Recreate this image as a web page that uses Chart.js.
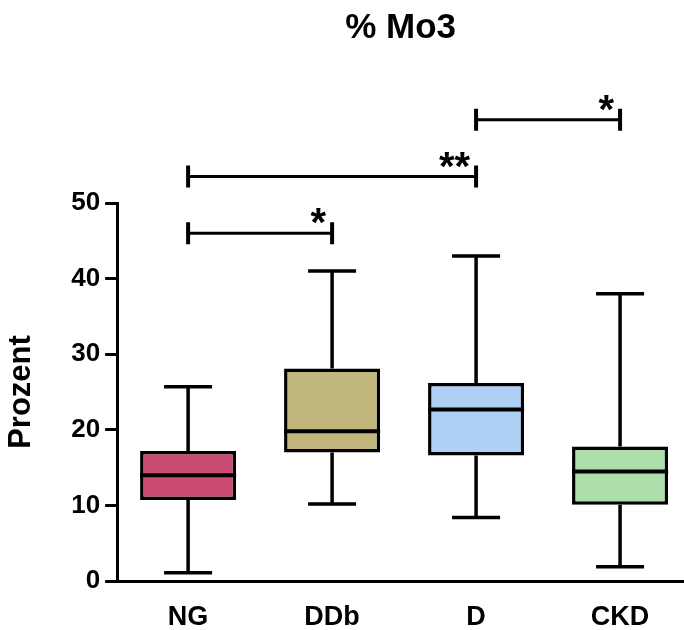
<!DOCTYPE html>
<html lang="de">
<head>
<meta charset="UTF-8">
<title>% Mo3</title>
<script src="https://cdn.jsdelivr.net/npm/chart.js"></script>
<style>
  body { margin: 0; background: #fff; }
  #wrap { width: 684px; height: 630px; }
</style>
</head>
<body>
<div id="wrap"><canvas id="boxChart" width="684" height="630"></canvas></div>
<script>
// data
const categories = ['NG', 'DDb', 'D', 'CKD'];
const whiskerLow = [1.1, 10.2, 8.4, 1.9];
const q1 = [10.7, 17.0, 16.6, 10.1];
const median = [14.0, 19.8, 22.7, 14.5];
const q3 = [17.2, 28.1, 26.2, 17.8];
const whiskerHigh = [25.7, 41.0, 43.0, 38.0];
const boxColors = ['#cc4b73', '#c1b67c', '#afd1f5', '#acdfac'];
const yTicks = [0, 10, 20, 30, 40, 50];

// significance brackets (group index from / to, height in %, label)
const bracketFrom = [0, 0, 2];
const bracketTo = [1, 2, 3];
const bracketLevel = [46, 53.5, 61];
const bracketLabel = ['*', '**', '*'];

const FONT = 'Arial, "Liberation Sans", Helvetica, sans-serif';

const boxWhiskers = {
  id: 'boxWhiskers',
  afterDatasetsDraw(chart) {
    const ctx = chart.ctx;
    const y = chart.scales.y;
    const meta = chart.getDatasetMeta(0);
    ctx.save();
    ctx.strokeStyle = '#000';
    ctx.lineCap = 'butt';
    meta.data.forEach((bar, i) => {
      const cx = bar.x;
      const half = bar.width / 2;
      const capHalf = bar.width / 4;
      // median
      ctx.lineWidth = 4;
      ctx.beginPath();
      ctx.moveTo(cx - half, y.getPixelForValue(median[i]));
      ctx.lineTo(cx + half, y.getPixelForValue(median[i]));
      ctx.stroke();
      // whiskers
      ctx.lineWidth = 3.5;
      ctx.beginPath();
      ctx.moveTo(cx, y.getPixelForValue(q3[i]));
      ctx.lineTo(cx, y.getPixelForValue(whiskerHigh[i]));
      ctx.moveTo(cx, y.getPixelForValue(q1[i]));
      ctx.lineTo(cx, y.getPixelForValue(whiskerLow[i]));
      ctx.moveTo(cx - capHalf, y.getPixelForValue(whiskerHigh[i]));
      ctx.lineTo(cx + capHalf, y.getPixelForValue(whiskerHigh[i]));
      ctx.moveTo(cx - capHalf, y.getPixelForValue(whiskerLow[i]));
      ctx.lineTo(cx + capHalf, y.getPixelForValue(whiskerLow[i]));
      ctx.stroke();
    });
    ctx.restore();
  }
};

const sigBrackets = {
  id: 'sigBrackets',
  afterDraw(chart) {
    const ctx = chart.ctx;
    const x = chart.scales.x;
    const y = chart.scales.y;
    ctx.save();
    ctx.strokeStyle = '#000';
    ctx.fillStyle = '#000';
    ctx.font = 'bold 40px ' + FONT;
    ctx.textAlign = 'right';
    ctx.textBaseline = 'alphabetic';
    bracketLevel.forEach((lvl, i) => {
      const x1 = x.getPixelForValue(bracketFrom[i]);
      const x2 = x.getPixelForValue(bracketTo[i]);
      const py = y.getPixelForValue(lvl);
      ctx.lineWidth = 3;
      ctx.beginPath();
      ctx.moveTo(x1, py);
      ctx.lineTo(x2, py);
      ctx.stroke();
      ctx.lineWidth = 4;
      ctx.beginPath();
      ctx.moveTo(x1, py - 11);
      ctx.lineTo(x1, py + 11);
      ctx.moveTo(x2, py - 11);
      ctx.lineTo(x2, py + 11);
      ctx.stroke();
      ctx.fillText(bracketLabel[i], x2 - 6, py + 3);
    });
    ctx.restore();
  }
};

new Chart(document.getElementById('boxChart'), {
  type: 'bar',
  data: {
    datasets: [{
      data: categories.map((c, i) => ({ x: i, y: [q1[i], q3[i]] })),
      backgroundColor: boxColors,
      borderColor: '#000',
      borderWidth: 3.5,
      borderSkipped: false,
      categoryPercentage: 1,
      barPercentage: 0.667
    }]
  },
  options: {
    responsive: false,
    animation: false,
    layout: { padding: { top: 0, left: 0, right: 0, bottom: -16 } },
    plugins: {
      legend: { display: false },
      tooltip: { enabled: false },
      title: {
        display: true,
        fullSize: false,
        text: '% Mo3',
        color: '#000',
        font: { family: FONT, size: 35, weight: 'bold', lineHeight: 1.2 },
        padding: { top: 7, bottom: 154 }
      }
    },
    scales: {
      x: {
        type: 'linear',
        offset: false,
        min: -0.493,
        max: 3.444,
        afterBuildTicks: (axis) => { axis.ticks = categories.map((c, i) => ({ value: i })); },
        grid: { display: false },
        border: { display: true, color: '#000', width: 3 },
        ticks: {
          color: '#000',
          padding: 15,
          font: { family: FONT, size: 27, weight: 'bold', lineHeight: 1 },
          callback: (v) => categories[v]
        }
      },
      y: {
        min: 0,
        max: 50,
        afterBuildTicks: (axis) => { axis.ticks = yTicks.map(v => ({ value: v })); },
        grid: { drawOnChartArea: false, tickLength: 12, tickWidth: 3, tickColor: '#000', color: '#000' },
        border: { display: true, color: '#000', width: 3 },
        ticks: {
          color: '#000',
          padding: 5,
          font: { family: FONT, size: 26, weight: 'bold' }
        },
        title: {
          display: true,
          text: 'Prozent',
          color: '#000',
          font: { family: FONT, size: 31, weight: 'bold', lineHeight: 1.2 },
          padding: { top: 3, bottom: 26 }
        }
      }
    }
  },
  plugins: [boxWhiskers, sigBrackets]
});
</script>
</body>
</html>
